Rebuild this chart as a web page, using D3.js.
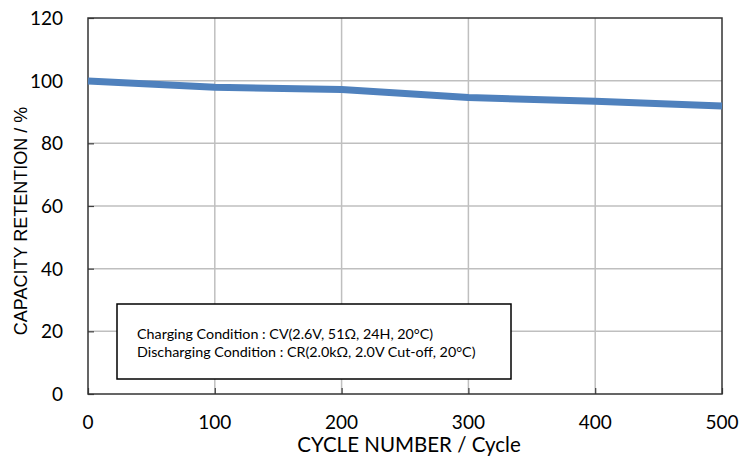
<!DOCTYPE html>
<html>
<head>
<meta charset="utf-8">
<script src="https://cdn.jsdelivr.net/npm/d3@7"></script>
<style>
  body { margin: 0; background: #fff; }
  svg { display: block; }
</style>
</head>
<body>
<div id="chart-area"></div>
<script>
// data
const cycles = [0, 100, 200, 300, 400, 500]
const retention = [99.9, 97.9, 97.2, 94.6, 93.4, 91.9]
const xTicks = [0, 100, 200, 300, 400, 500]
const yTicks = [0, 20, 40, 60, 80, 100, 120]
const noteLines = [
  "Charging Condition : CV(2.6V, 51\u03A9, 24H, 20\u00B0C)",
  "Discharging Condition : CR(2.0k\u03A9, 2.0V Cut-off, 20\u00B0C)"
]

const W = 739, H = 456
const MARGIN = { LEFT: 88, RIGHT: 17, TOP: 18, BOTTOM: 62 }
const WIDTH = W - MARGIN.LEFT - MARGIN.RIGHT
const HEIGHT = H - MARGIN.TOP - MARGIN.BOTTOM
const FONT = "Lato, 'Open Sans', sans-serif"

const svg = d3.select("#chart-area").append("svg")
  .attr("width", W)
  .attr("height", H)

const g = svg.append("g")
  .attr("transform", `translate(${MARGIN.LEFT}, ${MARGIN.TOP})`)

const x = d3.scaleLinear().domain([0, 500]).range([0, WIDTH])
const y = d3.scaleLinear().domain([0, 120]).range([HEIGHT, 0])

// grid
g.append("g").selectAll("line").data(xTicks.slice(1, -1)).join("line")
  .attr("x1", d => x(d)).attr("x2", d => x(d))
  .attr("y1", 0).attr("y2", HEIGHT)
  .attr("stroke", "#bfbfbf").attr("stroke-width", 1.5)
g.append("g").selectAll("line").data(yTicks.slice(1, -1)).join("line")
  .attr("x1", 0).attr("x2", WIDTH)
  .attr("y1", d => y(d)).attr("y2", d => y(d))
  .attr("stroke", "#bfbfbf").attr("stroke-width", 1.5)

// axes with inward ticks
const xAxis = g.append("g")
  .attr("transform", `translate(0, ${HEIGHT})`)
  .call(d3.axisTop(x).tickValues(xTicks).tickSize(6).tickFormat(""))
const yAxis = g.append("g")
  .call(d3.axisRight(y).tickValues(yTicks).tickSize(6).tickFormat(""))
;[xAxis, yAxis].forEach(a => {
  a.select(".domain").remove()
  a.selectAll("line").attr("stroke", "#404040").attr("stroke-width", 1.2)
})

// frame
g.append("rect")
  .attr("width", WIDTH).attr("height", HEIGHT)
  .attr("fill", "none")
  .attr("stroke", "#333").attr("stroke-width", 1.5)

// tick labels
g.append("g").selectAll("text").data(xTicks).join("text")
  .attr("x", d => x(d)).attr("y", HEIGHT + 35)
  .attr("text-anchor", "middle")
  .attr("font-family", FONT).attr("font-size", 19).attr("fill", "#000")
  .text(d => d)
g.append("g").selectAll("text").data(yTicks).join("text")
  .attr("x", -25).attr("y", d => y(d)).attr("dy", "0.36em")
  .attr("text-anchor", "end")
  .attr("font-family", FONT).attr("font-size", 19).attr("fill", "#000")
  .text(d => d)

// axis titles
svg.append("text")
  .attr("x", MARGIN.LEFT + WIDTH / 2 + 4).attr("y", 452)
  .attr("text-anchor", "middle")
  .attr("font-family", FONT).attr("font-size", 20.5).attr("fill", "#000")
  .text("CYCLE NUMBER / Cycle")
svg.append("text")
  .attr("transform", `translate(27, ${MARGIN.TOP + HEIGHT / 2 + 15}) rotate(-90)`)
  .attr("text-anchor", "middle")
  .attr("font-family", "'Liberation Sans', Arial, sans-serif").attr("font-size", 18).attr("fill", "#000")
  .text("CAPACITY RETENTION / %")

// retention line
const line = d3.line()
  .x((d, i) => x(cycles[i]))
  .y(d => y(d))
g.append("path")
  .attr("fill", "none")
  .attr("stroke", "#4f81bd")
  .attr("stroke-width", 7)
  .attr("d", line(retention))

// condition note box
const note = g.append("g")
  .attr("transform", `translate(${117 - MARGIN.LEFT}, ${304 - MARGIN.TOP})`)
note.append("rect")
  .attr("width", 394).attr("height", 75)
  .attr("fill", "#fff")
  .attr("stroke", "#000").attr("stroke-width", 1.5)
note.selectAll("text").data(noteLines).join("text")
  .attr("x", 20).attr("y", (d, i) => 35 + i * 18)
  .attr("font-family", FONT).attr("font-size", 14.3).attr("fill", "#000")
  .text(d => d)
</script>
</body>
</html>
